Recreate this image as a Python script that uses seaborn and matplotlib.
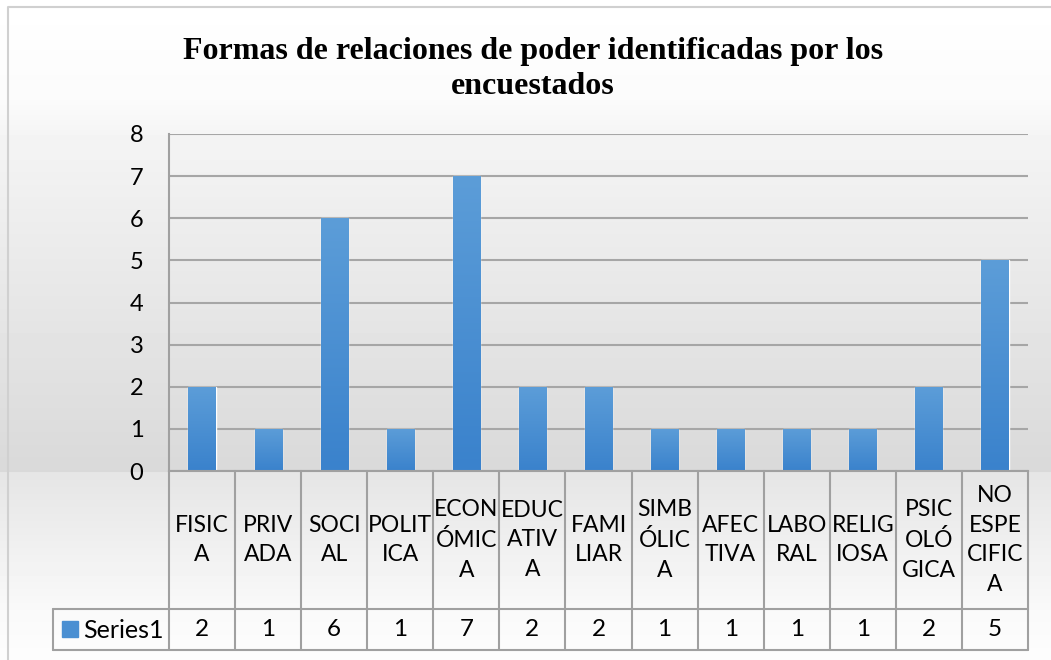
import numpy as np
import matplotlib
matplotlib.use("Agg")
import matplotlib.pyplot as plt
import seaborn as sns
from matplotlib import transforms
from matplotlib.lines import Line2D
from matplotlib.patches import Rectangle
from matplotlib.colors import LinearSegmentedColormap

# data
categories = ["FISICA", "PRIVADA", "SOCIAL", "POLITICA", "ECONÓMICA", "EDUCATIVA", "FAMILIAR",
              "SIMBÓLICA", "AFECTIVA", "LABORAL", "RELIGIOSA", "PSICOLÓGICA", "NO ESPECIFICA"]
tick_labels = ["FISIC\nA", "PRIV\nADA", "SOCI\nAL", "POLIT\nICA", "ECON\nÓMIC\nA", "EDUC\nATIV\nA",
               "FAMI\nLIAR", "SIMB\nÓLIC\nA", "AFEC\nTIVA", "LABO\nRAL", "RELIG\nIOSA",
               "PSIC\nOLÓ\nGICA", "NO\nESPE\nCIFIC\nA"]
values = [2, 1, 6, 1, 7, 2, 2, 1, 1, 1, 1, 2, 5]
series_name = "Series1"
title = "Formas de relaciones de poder identificadas por los\nencuestados"

W, H = 1051, 660
sns.set_theme(style="white")
plt.rcParams["font.family"] = ["Lato", "DejaVu Sans"]

fig = plt.figure(figsize=(W / 100, H / 100), dpi=100)


def fx(px):
    return px / W


def fy(py):
    return 1 - py / H


# chart background gradient, drawn pixel for pixel
rows = np.arange(H)
levels = np.interp(rows, [0, 100, 135, 471, 472, 609, 660],
                   [255, 251, 244, 217, 229, 249, 253]) / 255
fig.figimage(np.repeat(levels[:, None], W, axis=1), cmap="gray", vmin=0, vmax=1,
             origin="upper", zorder=-10)
# chart border (bottom and right run past the picture edge)
fig.add_artist(Line2D([fx(8), fx(8), 1], [0, fy(7), fy(7)], color="#d0d0d0", lw=1.5))

fig.text(fx(533), fy(69), title, ha="center", va="center", family="Liberation Serif",
         weight="bold", fontsize=23, linespacing=1.3, color="black")

ax = fig.add_axes([fx(169), fy(471), fx(1028) - fx(169), fy(134) - fy(471)])
ax.set_facecolor("none")
sns.barplot(x=categories, y=values, ax=ax, width=0.41, color="#4a8fd2", saturation=1)

# gradient fill on bars
cmap = LinearSegmentedColormap.from_list("bar", ["#5c9dd8", "#3a82cc"])
grad = np.linspace(0, 1, 100)[:, None]
for p in ax.patches:
    x0, w, h = p.get_x(), p.get_width(), p.get_height()
    im = ax.imshow(grad, cmap=cmap, aspect="auto", extent=[x0, x0 + w, 0, h],
                   zorder=p.get_zorder() + 0.1)
    im.set_clip_path(p)

ax.set_xlim(-0.5, 12.5)
ax.set_ylim(0, 8)
ax.set_yticks(range(9))
ax.yaxis.grid(True, color="#a6a6a6", lw=1.5)
ax.set_axisbelow(True)
ax.set_xticks([])
ax.set_xlabel("")
ax.set_ylabel("")
ax.tick_params(axis="y", length=0, pad=18.5, labelsize=17, labelcolor="black")
for s in ["top", "right"]:
    ax.spines[s].set_visible(False)
for s in ["left", "bottom"]:
    ax.spines[s].set_color("#a0a0a0")
    ax.spines[s].set_linewidth(1.5)

# data table under the axis
tr = transforms.blended_transform_factory(ax.transData, fig.transFigure)
line_kw = dict(color="#a0a0a0", lw=1.5, clip_on=False)
for i in range(len(categories) + 1):
    ax.add_line(Line2D([i - 0.5, i - 0.5], [fy(471), fy(650)], transform=tr, **line_kw))
for yy in [609, 650]:
    fig.add_artist(Line2D([fx(53), fx(1028)], [fy(yy), fy(yy)], **line_kw))
fig.add_artist(Line2D([fx(53), fx(53)], [fy(609), fy(650)], **line_kw))

for i, (lab, v) in enumerate(zip(tick_labels, values)):
    ax.text(i, fy(540), lab, transform=tr, ha="center", va="center", fontsize=16.5,
            linespacing=1.5, color="black")
    ax.text(i, fy(630), str(v), transform=tr, ha="center", va="center", fontsize=17.5,
            color="black")

fig.add_artist(Rectangle((fx(62), fy(637)), fx(16), fy(621) - fy(637), color="#4a8fd2"))
fig.text(fx(83), fy(630), series_name, ha="left", va="center", fontsize=18, color="black")

fig.savefig("out.png", dpi=100)
